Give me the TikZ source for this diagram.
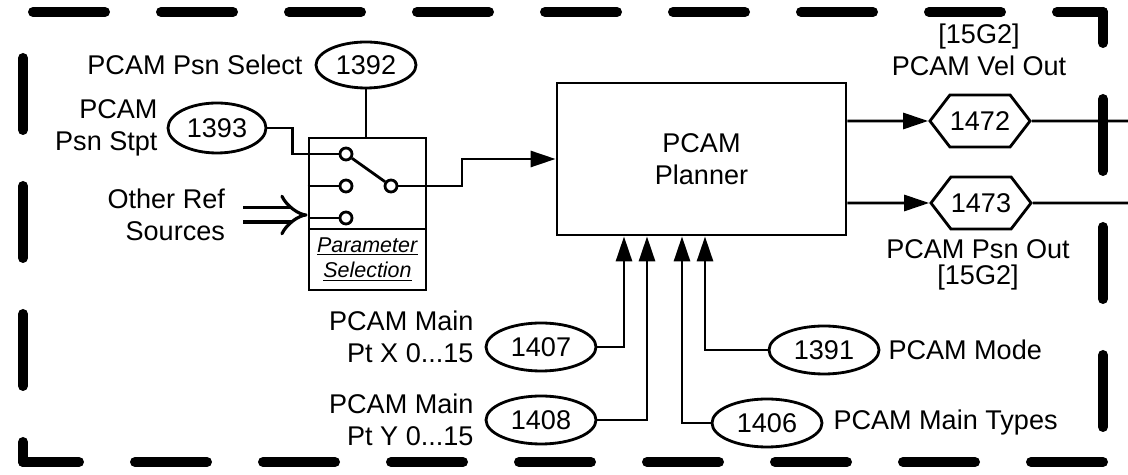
\documentclass[tikz,border=0pt]{standalone}
\usepackage{fontspec}
\setmainfont{Liberation Sans}
\setsansfont{Liberation Sans}
\usetikzlibrary{arrows.meta,positioning,shapes.geometric,shapes.symbols}

\begin{document}
\begin{tikzpicture}[
  >={Triangle[length=0.5cm,width=0.32cm]},
  font=\sffamily\fontsize{15.4}{18.5}\selectfont,
  frame/.style={line width=0.2cm, line cap=round, dash pattern=on 1.44cm off 1.12cm},
  wire/.style={draw, line width=1.6pt},
  arr/.style={wire, ->},
  num/.style={draw, line width=1.6pt, ellipse, minimum width=2.2cm,
              minimum height=0.96cm, inner sep=0pt},
  outtag/.style={draw, line width=1.6pt, signal, signal to=west and east,
                 signal pointer angle=105, minimum width=2cm,
                 minimum height=1.04cm, inner sep=0pt},
  contact/.style={draw, line width=1.6pt, circle, fill=white,
                  minimum size=0.24cm, inner sep=0pt},
  lbl/.style={inner sep=1pt, align=right},
  blockbox/.style={draw, line width=1.6pt, rectangle, align=center, inner sep=0pt}
]
\useasboundingbox (0,0) rectangle (22.56,9.5);

% ---- Frame ----
\draw[frame, dash phase=1.04cm] (0.46,0.26) -- (0.46,9.26);
\draw[frame, dash phase=2.36cm] (0.46,9.26) -- (22.06,9.26);
\draw[frame, dash phase=0.82cm] (22.06,9.26) -- (22.06,0.26);
\draw[frame] (22.06,0.26) -- (0.46,0.26);

% ---- Parameter selection switch ----
\node[blockbox, minimum width=2.34cm, minimum height=1.82cm] (swtop) at (7.35,5.83) {};
\node[blockbox, minimum width=2.34cm, minimum height=1.22cm, below=-1.6pt of swtop,
      font=\sffamily\fontsize{12.2}{14.7}\selectfont]
  (swlbl) {\underline{\textit{Parameter}}\\\underline{\textit{Selection}}};
\foreach \i/\y in {1/6.42, 2/5.78, 3/5.14} {
  \node[contact] (c\i) at (6.92,\y) {};
}
\node[contact] (cout) at (7.82,5.78) {};
\foreach \i in {2,3} {
  \draw[wire] (swtop.west |- c\i) -- (c\i);
}
\draw[wire] (c1) -- (cout);

% ---- Switch inputs ----
\node[num, minimum width=2cm, minimum height=0.92cm] (sel) at (7.32,8.2) {1392};
\node[lbl, left=0.2cm of sel] (sellbl) {PCAM Psn Select};
\draw[wire] (sel) -- (sel |- swtop.north);

\node[num, minimum width=1.96cm, minimum height=1cm] (stpt) at (4.34,6.94) {1393};
\node[lbl, left=0.14cm of stpt] (stptlbl) {PCAM\\Psn Stpt};
\draw[wire] (stpt.east) -- ++(0.5,0) |- (c1);

\node[lbl, anchor=east] (oreflbl) at (4.54,5.2) {Other Ref\\Sources};
\draw[wire, line width=1.8pt, double, double distance=0.22cm, -{Implies}]
  ([xshift=0.32cm]oreflbl.east) -- (swtop.west |- oreflbl.east);

% ---- Planner ----
\node[blockbox, minimum width=5.78cm, minimum height=3.04cm] (plan) at (14.03,6.32)
  {PCAM\\Planner};
\coordinate (jog) at (9.24,5.78);
\draw[arr] (cout) -- (jog) |- (plan.west);

% ---- Outputs ----
\node[outtag] (vel) at (19.6,7.08) {1472};
\node[outtag] (psn) at (19.62,5.44) {1473};
\coordinate (velend) at (22.56,7.08);
\coordinate (psnend) at (22.56,5.44);
\draw[arr] (plan.east |- vel) -- (vel);
\draw[arr] (plan.east |- psn) -- (psn);
\draw[wire] (vel) -- (velend);
\draw[wire] (psn) -- (psnend);
\node[align=center] (vellbl) at (19.58,8.5) {[15G2]\\PCAM Vel Out};
\node[align=center] (psnlbl) at (19.56,4.2) {PCAM Psn Out\\[-4pt][15G2]};

% ---- Planner inputs ----
\node[num] (mx) at (10.82,2.56) {1407};
\node[num] (my) at (10.82,1.1) {1408};
\node[num] (mode) at (16.48,2.5) {1391};
\node[num] (types) at (15.34,1.04) {1406};
\node[lbl, left=0.18cm of mx, yshift=0.2cm] (mxlbl) {PCAM Main\\Pt X 0...15};
\node[lbl, left=0.18cm of my] (mylbl) {PCAM Main\\Pt Y 0...15};
\node[lbl, right=0.12cm of mode] (modelbl) {PCAM Mode};
\node[lbl, right=0.16cm of types] (typeslbl) {PCAM Main Types};
\draw[arr] (mx) -| ([xshift=-1.55cm]plan.south);
\draw[arr] (my) -| ([xshift=-1.09cm]plan.south);
\draw[arr] (types) -| ([xshift=-0.39cm]plan.south);
\draw[arr] (mode) -| ([xshift=0.07cm]plan.south);

\end{tikzpicture}
\end{document}
